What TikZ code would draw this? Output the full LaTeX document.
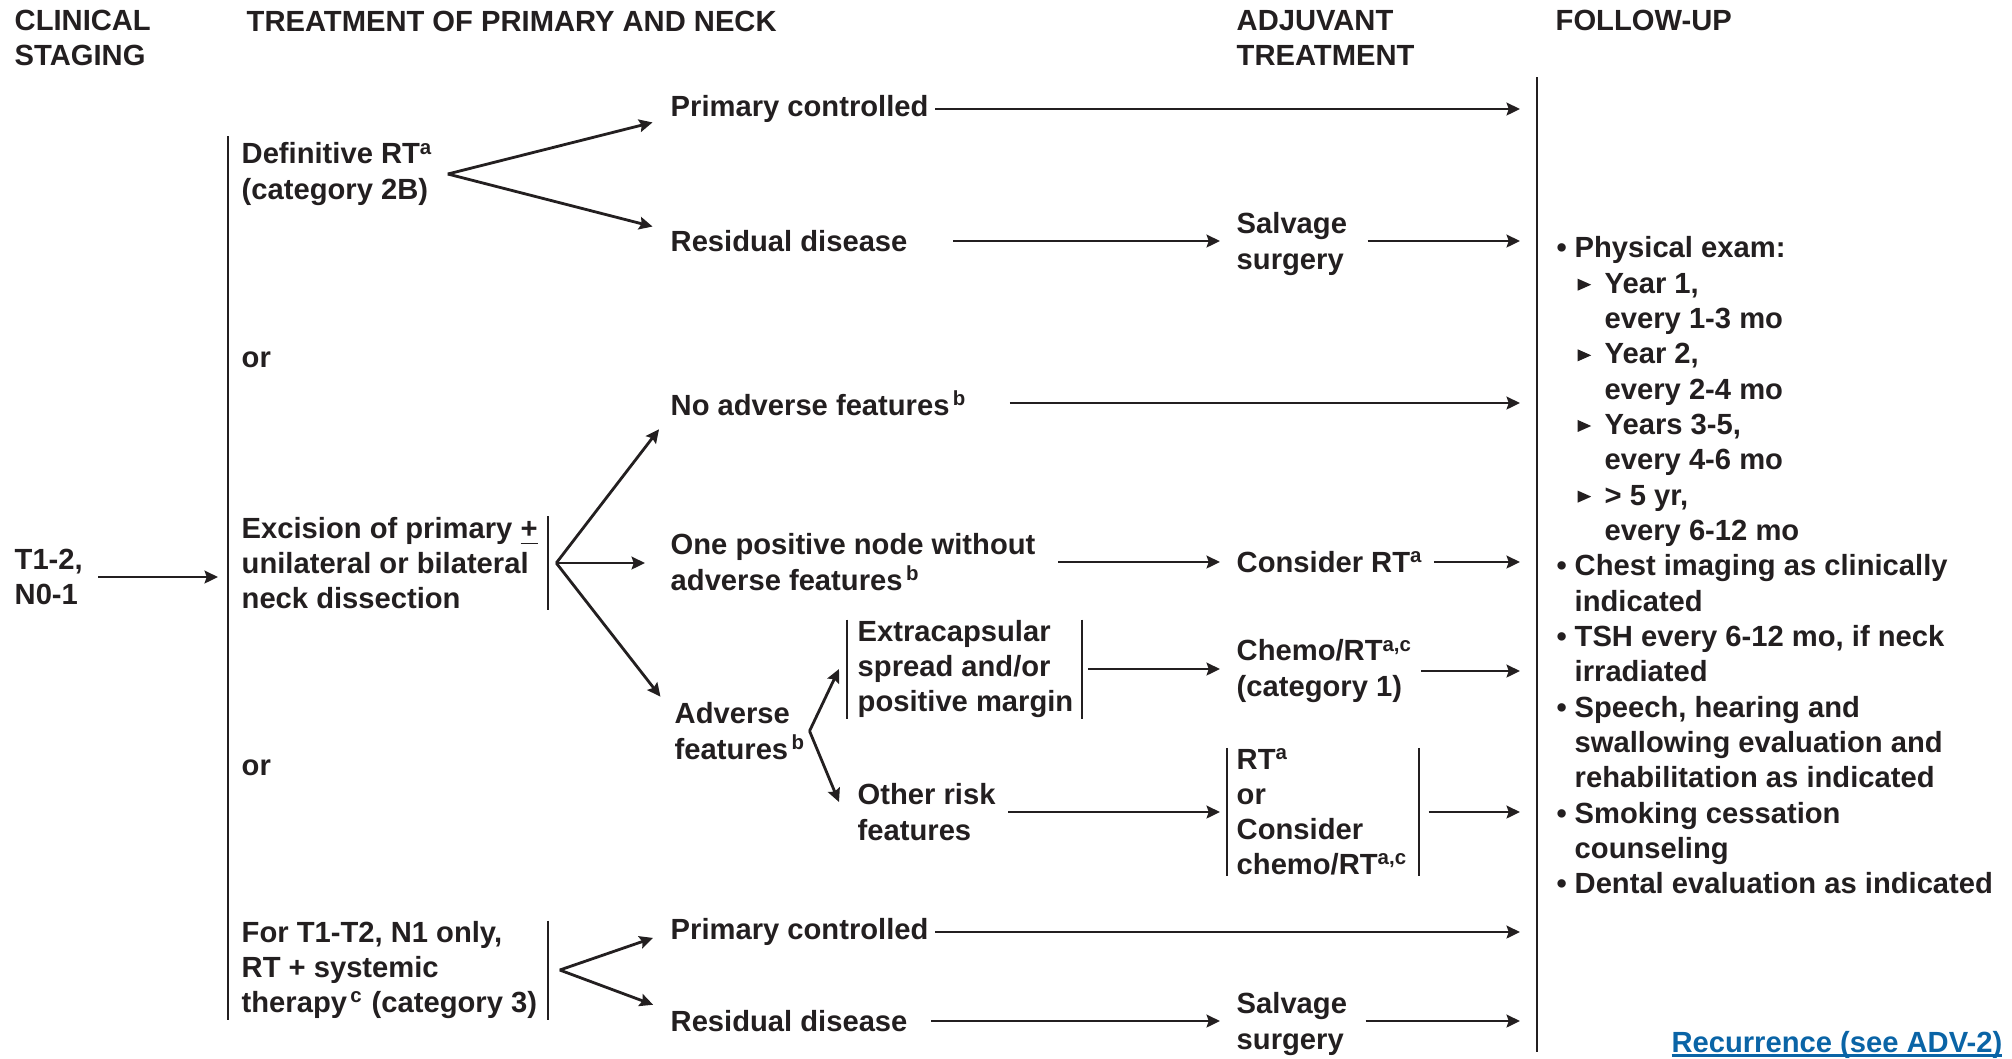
\documentclass[tikz,border=0pt]{standalone}
\usepackage{fontspec}
\setmainfont{Liberation Sans}
\usetikzlibrary{arrows.meta}
\definecolor{ink}{HTML}{231F20}
\definecolor{linkblue}{HTML}{0A64A6}
\newcommand{\tri}{\tikz[baseline=0pt]\fill[ink] (0,0.25mm) -- (0,1.45mm) -- (1.35mm,0.85mm) -- cycle;}
\newcommand{\bul}{\makebox[1.8mm][l]{\textbullet}}
\newcommand{\subitm}{\hspace*{2.1mm}\makebox[2.7mm][l]{\tri}}
\newcommand{\cont}{\hspace*{1.8mm}}
\newcommand{\subcont}{\hspace*{4.8mm}}
\newcommand{\linkul}[1]{\setbox0\hbox{#1}\rlap{\rule[-1.3pt]{\wd0}{0.6pt}}\box0}
\begin{document}
\begin{tikzpicture}[
  txt/.style={anchor=west,inner sep=0pt,align=left,text=ink,font=\fontsize{8.3}{10}\selectfont\bfseries},
  arr/.style={draw=ink,line width=0.8pt,-{Stealth[length=3.8pt,width=3.6pt,inset=0.6pt]}},
  bar/.style={draw=ink,line width=0.6pt}]
\useasboundingbox (0,0) rectangle (20.12,-10.58);

\node[txt] (hdStage) at (0.14,-0.38) {CLINICAL\\STAGING};
\node[txt] (hdTreat) at (2.46,-0.21) {TREATMENT OF PRIMARY AND NECK};
\node[txt] (hdAdj) at (12.36,-0.38) {ADJUVANT\\TREATMENT};
\node[txt] (hdFollow) at (15.55,-0.20) {FOLLOW-UP};

\coordinate (barTop) at (2.28,-1.36);
\coordinate (barBot) at (2.28,-10.20);
\coordinate (fuTop) at (15.37,-0.77);
\coordinate (fuBot) at (15.37,-10.52);
\coordinate (fuIn) at (15.20,0);
\draw[bar] (barTop) -- (barBot);
\draw[bar] (fuTop) -- (fuBot);

\node[txt] (stage) at (0.14,-5.77) {T1-2,\\N0-1};
\draw[arr] (stage.east) -- (barTop |- stage.east) [shorten <=1.5mm, shorten >=1mm];

\node[txt] (defRT) at (2.41,-1.74) {Definitive RT\textsuperscript{a}\\(category 2B)};
\node[txt] (pc1) at (6.70,-1.09) {Primary controlled};
\node[txt] (res1) at (6.70,-2.41) {Residual disease};
\node[txt] (salv1) at (12.36,-2.44) {Salvage\\surgery};
\coordinate (defFork) at ([xshift=1.4mm]defRT.east);
\draw[arr,shorten >=1.8mm] (defFork) -- ([yshift=-0.09cm]pc1.west);
\draw[arr,shorten >=1.8mm] (defFork) -- ([yshift=0.1cm]res1.west);
\draw[arr,shorten <=0.6mm] (pc1.east) -- (pc1.east -| fuIn);
\draw[arr,shorten <=4.5mm,shorten >=1.6mm] (res1.east) -- (salv1.west |- res1.east);
\draw[arr,shorten <=2mm] (salv1.east |- res1.east) -- (res1.east -| fuIn);

\node[txt] (or1) at (2.41,-3.60) {or};
\node[txt] (or2) at (2.41,-7.68) {or};

\node[txt] (exc) at (2.41,-5.63) {Excision of primary \underline{+}\\unilateral or bilateral\\neck dissection};
\draw[bar] ([xshift=1.0mm]exc.north east) -- ([xshift=1.0mm]exc.south east);
\coordinate (excFork) at ([xshift=1.8mm]exc.east);
\node[txt] (noadv) at (6.70,-4.03) {No adverse features\textsuperscript{\,b}};
\node[txt] (onepos) at (6.70,-5.62) {One positive node without\\adverse features\textsuperscript{\,b}};
\node[txt] (adv) at (6.74,-7.31) {Adverse\\features\textsuperscript{\,b}};
\draw[arr,shorten >=1.8mm] (excFork) -- ([yshift=-0.12cm]noadv.west);
\draw[arr,shorten >=2.5mm] (excFork) -- (excFork -| onepos.west);
\draw[arr,shorten >=2.2mm] (excFork) -- ([yshift=0.17cm]adv.west);
\draw[arr,shorten <=4.2mm] (noadv.east) -- (noadv.east -| fuIn);

\node[txt] (consRT) at (12.36,-5.62) {Consider RT\textsuperscript{a}};
\draw[arr,shorten <=2.2mm,shorten >=1.6mm] (onepos.east) -- (consRT.west |- onepos.east);
\draw[arr,shorten <=1mm] (consRT.east) -- (consRT.east -| fuIn);

\node[txt] (extra) at (8.57,-6.69) {Extracapsular\\spread and/or\\positive margin};
\node[txt] (other) at (8.57,-8.12) {Other risk\\features};
\draw[bar] ([xshift=-1mm]extra.north west) -- ([xshift=-1mm]extra.south west);
\draw[bar] ([xshift=0.8mm]extra.north east) -- ([xshift=0.8mm]extra.south east);
\coordinate (advFork) at ([xshift=0.3mm]adv.east);
\draw[arr] (advFork) -- ([xshift=-1.8mm]extra.west);
\draw[arr] (advFork) -- ([xshift=-1.8mm,yshift=0.1cm]other.west);

\node[txt] (chemo) at (12.36,-6.71) {Chemo/RT\textsuperscript{a,c}\\(category 1)};
\node[txt] (rtor) at (12.36,-8.12) {RT\textsuperscript{a}\\or\\Consider\\chemo/RT\textsuperscript{a,c}};
\draw[bar] ([xshift=-0.9mm]rtor.north west) -- ([xshift=-0.9mm]rtor.south west);
\draw[bar] ([xshift=1.0mm]rtor.north east) -- ([xshift=1.0mm]rtor.south east);
\draw[arr,shorten <=0.6mm,shorten >=1.6mm] ([xshift=0.8mm]extra.east) -- (chemo.west |- extra.east);
\draw[arr,shorten <=0.8mm] (chemo.east) -- (chemo.east -| fuIn);
\draw[arr,shorten <=1.2mm,shorten >=1.6mm] (other.east) -- (rtor.west |- other.east);
\draw[arr,shorten <=2mm] (rtor.east) -- (rtor.east -| fuIn);

\node[txt] (t1t2) at (2.41,-9.70) {For T1-T2, N1 only,\\RT + systemic\\therapy\textsuperscript{\,c} (category 3)};
\draw[bar] ([xshift=1.0mm]t1t2.north east) -- ([xshift=1.0mm]t1t2.south east);
\coordinate (t1Fork) at ([xshift=2.2mm]t1t2.east);
\node[txt] (pc2) at (6.70,-9.32) {Primary controlled};
\node[txt] (res2) at (6.70,-10.21) {Residual disease};
\node[txt] (salv2) at (12.36,-10.24) {Salvage\\surgery};
\draw[arr,shorten >=1.8mm] (t1Fork) -- (pc2.west);
\draw[arr,shorten >=1.8mm] (t1Fork) -- ([yshift=0.1cm]res2.west);
\draw[arr,shorten <=0.6mm] (pc2.east) -- (pc2.east -| fuIn);
\draw[arr,shorten <=2.3mm,shorten >=1.6mm] (res2.east) -- (salv2.west |- res2.east);
\draw[arr,shorten <=1.8mm] (salv2.east |- res2.east) -- (res2.east -| fuIn);

\node[txt,anchor=north west,font=\fontsize{8.3}{10.05}\selectfont\bfseries] (fu) at (15.56,-2.36) {\bul Physical exam:\\
\subitm Year 1,\\ \subcont every 1-3 mo\\
\subitm Year 2,\\ \subcont every 2-4 mo\\
\subitm Years 3-5,\\ \subcont every 4-6 mo\\
\subitm > 5 yr,\\ \subcont every 6-12 mo\\
\bul Chest imaging as clinically\\ \cont indicated\\
\bul TSH every 6-12 mo, if neck\\ \cont irradiated\\
\bul Speech, hearing and\\ \cont swallowing evaluation and\\ \cont rehabilitation as indicated\\
\bul Smoking cessation\\ \cont counseling\\
\bul Dental evaluation as indicated};

\node[txt,anchor=base east,text=linkblue] (recur) at (20.03,-10.52) {\linkul{Recurrence (see ADV-2)}};
\end{tikzpicture}
\end{document}
